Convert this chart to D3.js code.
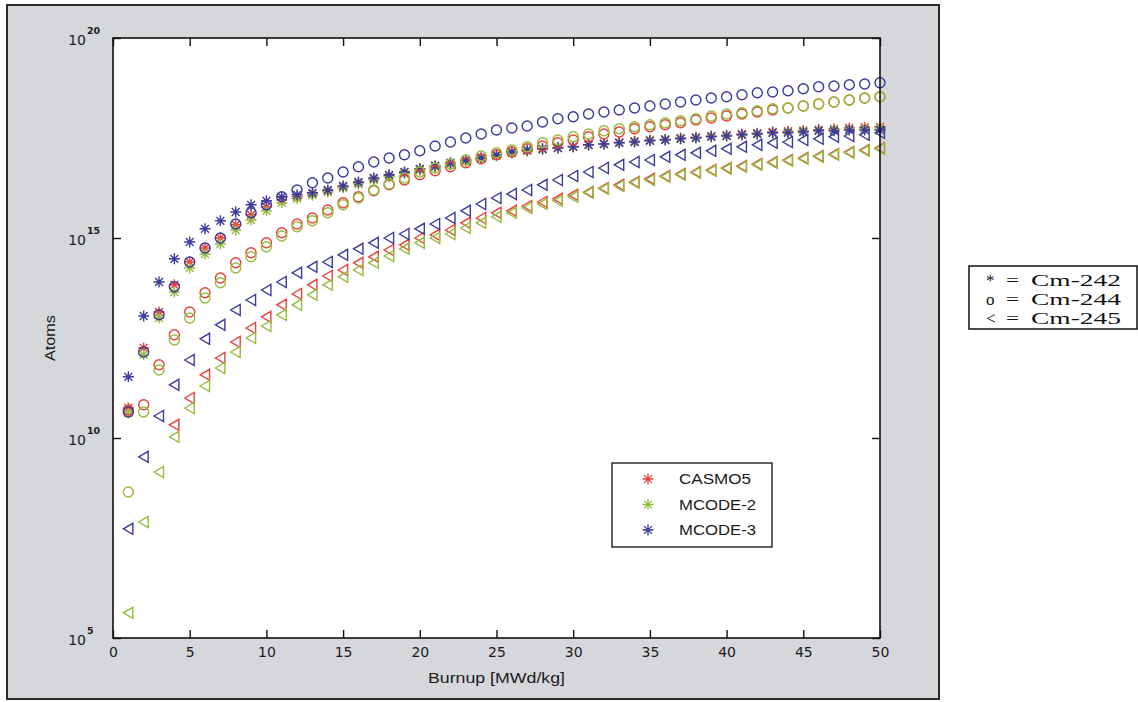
<!DOCTYPE html>
<html>
<head>
<meta charset="utf-8">
<script src="https://cdn.jsdelivr.net/npm/d3@7/dist/d3.min.js"></script>
<style>
  body { margin: 0; background: #fff; }
  svg { display: block; }
</style>
</head>
<body>
<script>
// burnup steps [MWd/kg]
var burnup = [1,2,3,4,5,6,7,8,9,10,11,12,13,14,15,16,17,18,19,20,21,22,23,24,25,
              26,27,28,29,30,31,32,33,34,35,36,37,38,39,40,41,42,43,44,45,46,47,48,49,50];

var xTicks = [0,5,10,15,20,25,30,35,40,45,50];
var yTicks = [1e5,1e10,1e15,1e20];
var yTickExp = ['5','10','15','20'];

var codes = ['CASMO5','MCODE-2','MCODE-3'];
var keySymbols = ['*','o','<'];
var keyIsotopes = ['Cm-242','Cm-244','Cm-245'];

// log10 of atoms (null = not shown)
var casmo5Cm242 = [10.75,12.25,13.15,13.83,14.4,14.75,15.0,15.33,15.58,15.78,15.95,16.03,16.1,16.18,16.28,16.38,16.48,16.56,16.64,16.72,
  16.8,16.87,16.94,17.0,17.07,17.14,17.19,17.23,17.26,17.29,17.33,17.36,17.39,17.42,17.45,17.47,17.5,17.52,17.55,17.57,
  17.6,17.62,17.65,17.67,17.69,17.71,17.73,17.75,17.77,17.78];
var mcode2Cm242 = [10.62,12.08,13.0,13.65,14.25,14.6,14.85,15.2,15.45,15.68,15.88,15.98,16.07,16.15,16.25,16.35,16.45,16.53,16.61,16.69,
  16.77,16.84,16.91,16.98,17.05,17.12,17.17,17.21,17.25,17.28,17.32,17.35,17.38,17.41,17.44,17.46,17.49,17.51,17.54,17.56,
  17.58,17.6,17.63,17.65,17.67,17.69,17.71,17.72,17.74,17.75];
var mcode3Cm242 = [11.53,13.05,13.9,14.48,14.9,15.23,15.43,15.65,15.83,15.93,16.03,16.08,16.13,16.2,16.3,16.4,16.5,16.58,16.65,16.73,
  16.8,16.88,16.95,17.0,17.08,17.15,17.2,17.23,17.25,17.28,17.33,17.35,17.38,17.4,17.43,17.45,17.48,17.5,17.53,17.55,
  17.58,17.6,17.63,17.63,17.65,17.68,17.68,17.7,17.7,17.7];

var casmo5Cm244 = [10.7,10.83,11.83,12.58,13.15,13.63,14.0,14.38,14.63,14.88,15.13,15.35,15.5,15.7,15.88,16.03,16.18,16.33,16.45,16.58,
  16.68,16.78,16.88,16.98,17.08,17.15,17.23,17.3,17.38,17.45,17.53,17.6,17.65,17.73,17.78,17.83,17.88,17.95,18.0,18.05,
  18.1,18.15,18.2,18.25,18.3,18.35,18.4,18.45,18.5,18.53];
var mcode2Cm244 = [8.65,10.65,11.7,12.45,13.0,13.5,13.88,14.25,14.53,14.78,15.05,15.28,15.43,15.63,15.83,16.0,16.2,16.35,16.5,16.65,
  16.75,16.85,16.95,17.05,17.13,17.2,17.28,17.38,17.45,17.53,17.6,17.68,17.73,17.78,17.83,17.88,17.93,17.98,18.05,18.1,
  18.13,18.18,18.23,18.25,18.3,18.35,18.4,18.45,18.5,18.53];
var mcode3Cm244 = [10.65,12.15,13.08,13.78,14.4,14.75,15.0,15.35,15.63,15.83,16.03,16.2,16.38,16.5,16.65,16.78,16.9,17.0,17.08,17.18,
  17.3,17.4,17.5,17.6,17.7,17.75,17.8,17.9,17.98,18.03,18.1,18.15,18.2,18.25,18.3,18.35,18.4,18.45,18.5,18.53,
  18.58,18.63,18.65,18.68,18.73,18.78,18.8,18.83,18.85,18.88];

var casmo5Cm245 = [null,null,null,10.33,11.0,11.58,12.0,12.4,12.75,13.03,13.33,13.6,13.83,14.05,14.2,14.38,14.53,14.7,14.83,15.0,
  15.08,15.2,15.38,15.5,15.63,15.68,15.8,15.9,15.98,16.08,16.15,16.25,16.33,16.4,16.48,16.55,16.6,16.65,16.7,16.75,
  16.8,16.85,16.9,16.95,17.0,17.05,17.1,17.15,17.2,17.25];
var mcode2Cm245 = [5.63,7.9,9.15,10.03,10.75,11.3,11.75,12.15,12.5,12.8,13.08,13.33,13.58,13.83,14.03,14.2,14.38,14.55,14.73,14.88,
  15.0,15.1,15.25,15.38,15.53,15.63,15.75,15.85,15.93,16.03,16.13,16.23,16.3,16.38,16.45,16.53,16.58,16.63,16.68,16.73,
  16.78,16.83,16.88,16.93,16.98,17.03,17.08,17.13,17.18,17.23];
var mcode3Cm245 = [7.73,9.53,10.55,11.33,11.95,12.48,12.83,13.2,13.45,13.7,13.9,14.13,14.28,14.4,14.58,14.73,14.88,15.0,15.1,15.23,
  15.35,15.5,15.68,15.85,16.0,16.1,16.2,16.33,16.45,16.55,16.65,16.75,16.83,16.9,16.95,17.03,17.08,17.13,17.18,17.23,
  17.28,17.33,17.38,17.4,17.45,17.48,17.53,17.55,17.58,17.63];

var colors = ['#e8413b', '#93bd3c', '#3b3b9d'];

var W = 1138, H = 702;
var plotL = 113, plotR = 880, plotT = 38, plotB = 638;
var sans = 'DejaVu Sans, Verdana, sans-serif';
var ink = '#1a1a1a';

var svg = d3.select('body').append('svg')
    .attr('width', W)
    .attr('height', H)
    .style('font-family', sans);

// figure background
svg.append('rect')
    .attr('x', 7).attr('y', 5)
    .attr('width', 932).attr('height', 694)
    .attr('fill', '#d6d7db')
    .attr('stroke', '#2a2a2a')
    .attr('stroke-width', 2);

svg.append('rect')
    .attr('x', plotL).attr('y', plotT)
    .attr('width', plotR - plotL).attr('height', plotB - plotT)
    .attr('fill', '#fff');

var x = d3.scaleLinear().domain([0, 50]).range([plotL, plotR]);
var y = d3.scaleLog().domain([1e5, 1e20]).range([plotB, plotT]);

// markers
var shapes = {
    star: 'M-5.5,0H5.5M0,-5.5V5.5M-3.9,-3.9L3.9,3.9M-3.9,3.9L3.9,-3.9',
    tri: 'M-5,0L4.5,-5.5L4.5,5.5Z'
};

var series = [
    {vals: casmo5Cm242, c: 0, m: 'star'},
    {vals: mcode2Cm242, c: 1, m: 'star'},
    {vals: mcode3Cm242, c: 2, m: 'star'},
    {vals: casmo5Cm244, c: 0, m: 'circle'},
    {vals: mcode2Cm244, c: 1, m: 'circle'},
    {vals: mcode3Cm244, c: 2, m: 'circle'},
    {vals: casmo5Cm245, c: 0, m: 'tri'},
    {vals: mcode2Cm245, c: 1, m: 'tri'},
    {vals: mcode3Cm245, c: 2, m: 'tri'}
];

var marks = svg.append('g');

series.forEach(function(s) {
    var pts = burnup.map(function(b, i) { return {b: b, v: s.vals[i]}; })
        .filter(function(d) { return d.v != null; });
    var g = marks.append('g')
        .attr('fill', 'none')
        .attr('stroke', colors[s.c])
        .attr('stroke-width', 1.4);
    var sel = g.selectAll('.m').data(pts).enter();
    if (s.m === 'circle') {
        sel.append('circle')
            .attr('cx', function(d) { return x(d.b); })
            .attr('cy', function(d) { return y(Math.pow(10, d.v)); })
            .attr('r', 5);
    } else {
        sel.append('path')
            .attr('d', shapes[s.m])
            .attr('transform', function(d) {
                return 'translate(' + x(d.b) + ',' + y(Math.pow(10, d.v)) + ')';
            });
    }
});

// axes, ticks pointing inward
var axisStyle = function(g) {
    g.select('.domain').remove();
    g.selectAll('line').attr('stroke', '#111').attr('stroke-width', 1.4);
};

svg.append('g')
    .attr('transform', 'translate(0,' + plotB + ')')
    .call(d3.axisBottom(x).tickValues(xTicks).tickSizeInner(-8).tickSizeOuter(0))
    .call(axisStyle)
    .call(function(g) {
        g.selectAll('text')
            .attr('y', 19).attr('dy', 0)
            .attr('fill', ink)
            .style('font-family', sans)
            .style('font-size', '14px');
    });

svg.append('g')
    .attr('transform', 'translate(0,' + plotT + ')')
    .call(d3.axisTop(x).tickValues(xTicks).tickSizeInner(-8).tickSizeOuter(0).tickFormat(''))
    .call(axisStyle);

svg.append('g')
    .attr('transform', 'translate(' + plotL + ',0)')
    .call(d3.axisLeft(y).tickValues(yTicks).tickSizeInner(-8).tickSizeOuter(0).tickFormat(''))
    .call(axisStyle);

svg.append('g')
    .attr('transform', 'translate(' + plotR + ',0)')
    .call(d3.axisRight(y).tickValues(yTicks).tickSizeInner(-8).tickSizeOuter(0).tickFormat(''))
    .call(axisStyle);

// plot box
svg.append('rect')
    .attr('x', plotL).attr('y', plotT)
    .attr('width', plotR - plotL).attr('height', plotB - plotT)
    .attr('fill', 'none')
    .attr('stroke', '#111')
    .attr('stroke-width', 1.6);

// y tick labels 10^n
var yLab = svg.append('g').attr('fill', ink);
yTicks.forEach(function(v, i) {
    yLab.append('text')
        .attr('x', 86).attr('y', y(v) + 7)
        .attr('text-anchor', 'end')
        .style('font-size', '14px')
        .text('10');
    yLab.append('text')
        .attr('x', 87).attr('y', y(v) - 4)
        .style('font-size', '9.5px')
        .style('font-weight', 'bold')
        .text(yTickExp[i]);
});

// axis titles
svg.append('text')
    .attr('x', (plotL + plotR) / 2).attr('y', 683)
    .attr('text-anchor', 'middle')
    .attr('fill', ink)
    .attr('textLength', 137)
    .attr('lengthAdjust', 'spacingAndGlyphs')
    .style('font-family', 'Liberation Sans, Arial, sans-serif')
    .style('font-size', '14px')
    .text('Burnup [MWd/kg]');

svg.append('text')
    .attr('transform', 'translate(55,' + ((plotT + plotB) / 2) + ') rotate(-90)')
    .attr('text-anchor', 'middle')
    .attr('fill', ink)
    .attr('textLength', 46)
    .attr('lengthAdjust', 'spacingAndGlyphs')
    .style('font-family', 'Liberation Sans, Arial, sans-serif')
    .style('font-size', '14px')
    .text('Atoms');

// legend (codes)
var leg = svg.append('g');
leg.append('rect')
    .attr('x', 612).attr('y', 463)
    .attr('width', 160).attr('height', 84)
    .attr('fill', '#fff')
    .attr('stroke', '#111')
    .attr('stroke-width', 1.3);

codes.forEach(function(name, i) {
    var ly = 479 + i * 25.5;
    leg.append('path')
        .attr('d', shapes.star)
        .attr('transform', 'translate(648,' + ly + ')')
        .attr('fill', 'none')
        .attr('stroke', colors[i])
        .attr('stroke-width', 1.3);
    leg.append('text')
        .attr('x', 679).attr('y', ly + 5)
        .attr('fill', ink)
        .attr('textLength', i === 0 ? 72 : 77)
        .attr('lengthAdjust', 'spacingAndGlyphs')
        .style('font-family', 'Liberation Sans, Arial, sans-serif')
        .style('font-size', '14px')
        .text(name);
});

// isotope key box on the right
var key = svg.append('g')
    .attr('fill', '#111')
    .style('font-family', 'Liberation Serif, Times New Roman, serif')
    .style('font-size', '17px');

key.append('rect')
    .attr('x', 969).attr('y', 266)
    .attr('width', 168).attr('height', 63)
    .attr('fill', '#fff')
    .attr('stroke', '#111')
    .attr('stroke-width', 1.5);

keyIsotopes.forEach(function(t, i) {
    var ky = 286 + i * 19;
    key.append('text').attr('x', 986).attr('y', ky).text(keySymbols[i]);
    key.append('text').attr('x', 1006).attr('y', ky)
        .attr('textLength', 13)
        .attr('lengthAdjust', 'spacingAndGlyphs')
        .text('=');
    key.append('text').attr('x', 1031).attr('y', ky)
        .attr('textLength', 90)
        .attr('lengthAdjust', 'spacingAndGlyphs')
        .text(t);
});
</script>
</body>
</html>
